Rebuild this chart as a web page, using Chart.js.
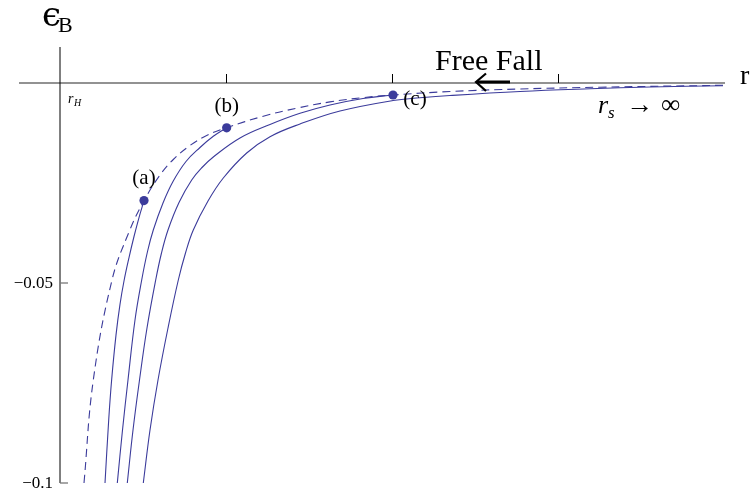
<!DOCTYPE html>
<html>
<head>
<meta charset="utf-8">
<script src="https://cdn.jsdelivr.net/npm/chart.js@4"></script>
<style>
  html, body { margin: 0; padding: 0; background: #fff; }
  #wrap { width: 752px; height: 494px; }
</style>
</head>
<body>
<div id="wrap"><canvas id="energyChart" width="752" height="494"></canvas></div>
<script>
// radial coordinate (r_H = 1) and binding energy
const freeFallR = [1.1446, 1.2006, 1.3133, 1.4157, 1.506, 1.6024, 1.6825, 1.7831, 1.8837, 2.0042, 2.2247, 2.4259, 2.6265, 2.8271, 3.006, 3.3494, 3.7711, 4.253, 4.994];
const freeFallE = [-0.1, -0.07425, -0.04925, -0.03725, -0.029425, -0.023, -0.019125, -0.015625, -0.013125, -0.011175, -0.0083, -0.0063, -0.004725, -0.00365, -0.003, -0.002125, -0.0015, -0.00105, -0.000575];

const curveAR = [1.2711, 1.2934, 1.3114, 1.3373, 1.3614, 1.3855, 1.4157, 1.4458, 1.4759, 1.506];
const curveAE = [-0.1, -0.08425, -0.074075, -0.063025, -0.05535, -0.0495, -0.04365, -0.038375, -0.03365, -0.029425];

const curveBR = [1.3452, 1.3765, 1.4096, 1.4518, 1.4922, 1.5271, 1.562, 1.6205, 1.6807, 1.759, 1.8434, 1.9235, 2.0042];
const curveBE = [-0.1, -0.08675, -0.07425, -0.05925, -0.04925, -0.042125, -0.03675, -0.03, -0.024625, -0.019625, -0.016125, -0.013325, -0.011175];

const curveCR = [1.4054, 1.4398, 1.4789, 1.5241, 1.5765, 1.6114, 1.6506, 1.7169, 1.7934, 1.8554, 1.9235, 2.0843, 2.2651, 2.4458, 2.6265, 2.8253, 3.006];
const curveCE = [-0.1, -0.08675, -0.07425, -0.06125, -0.04925, -0.0425, -0.03675, -0.029875, -0.02425, -0.021125, -0.0185, -0.01375, -0.010375, -0.007575, -0.0055, -0.003875, -0.003];

const curveDR = [1.5018, 1.5422, 1.5904, 1.6506, 1.7127, 1.756, 1.803, 1.8916, 1.9837, 2.1247, 2.2651, 2.4458, 2.6867, 3.006, 3.1687, 3.3494, 3.7711, 4.1928, 4.5542, 4.994];
const curveDE = [-0.1, -0.08675, -0.07425, -0.06125, -0.04925, -0.0425, -0.03675, -0.0295, -0.02375, -0.0175, -0.013425, -0.01025, -0.007, -0.004375, -0.0037, -0.003125, -0.002125, -0.00145, -0.001, -0.000675];

const startLabels = ['(a)', '(b)', '(c)'];
const startR = [1.506, 2.004, 3.006];
const startE = [-0.0294, -0.0112, -0.003];

const xTicks = [2, 3, 4];
const yTicks = [-0.05, -0.1];
const yTickLabels = ['\u22120.05', '\u22120.1'];
const rH = 1;

const blue = '#3b3b9b';
const serif = '"Liberation Serif", "DejaVu Serif", serif';

function toPoints(xs, ys) {
    return xs.map((x, i) => ({ x: x, y: ys[i] }));
}

function lineSet(xs, ys, dashed) {
    return {
        data: toPoints(xs, ys),
        showLine: true,
        borderColor: blue,
        borderWidth: 1.1,
        borderDash: dashed ? [8, 5] : [],
        pointRadius: 0,
        tension: 0.4,
        order: 1
    };
}

const axesPlugin = {
    id: 'axesPlugin',
    beforeDatasetsDraw(chart) {
        const ctx = chart.ctx;
        const xs = chart.scales.x;
        const ys = chart.scales.y;
        const x0 = xs.getPixelForValue(rH);
        const y0 = ys.getPixelForValue(0);
        const area = chart.chartArea;
        ctx.save();
        // r axis
        ctx.strokeStyle = '#6e6e6e';
        ctx.lineWidth = 1.3;
        ctx.beginPath();
        ctx.moveTo(area.left, y0);
        ctx.lineTo(area.right, y0);
        ctx.stroke();
        // energy axis
        ctx.strokeStyle = '#000';
        ctx.lineWidth = 1;
        ctx.beginPath();
        ctx.moveTo(x0, area.top);
        ctx.lineTo(x0, area.bottom);
        ctx.stroke();
        // ticks
        xTicks.forEach(v => {
            const px = Math.round(xs.getPixelForValue(v)) + 0.5;
            ctx.beginPath();
            ctx.moveTo(px, y0);
            ctx.lineTo(px, y0 - 9);
            ctx.stroke();
        });
        ctx.strokeStyle = '#777';
        ctx.lineWidth = 1.3;
        yTicks.forEach(v => {
            const py = ys.getPixelForValue(v);
            ctx.beginPath();
            ctx.moveTo(x0, py);
            ctx.lineTo(x0 + 8, py);
            ctx.stroke();
        });
        ctx.restore();
    },
    afterDatasetsDraw(chart) {
        const ctx = chart.ctx;
        const xs = chart.scales.x;
        const ys = chart.scales.y;
        const x0 = xs.getPixelForValue(rH);
        const y0 = ys.getPixelForValue(0);
        ctx.save();
        ctx.fillStyle = '#000';
        ctx.textBaseline = 'alphabetic';

        // tick labels
        ctx.font = '17px ' + serif;
        ctx.textAlign = 'right';
        yTicks.forEach((v, i) => {
            ctx.fillText(yTickLabels[i], x0 - 7, ys.getPixelForValue(v) + 5);
        });

        // axis titles
        ctx.textAlign = 'left';
        ctx.font = '34px "DejaVu Serif", serif';
        ctx.fillText('\u03F5', x0 - 18, 26);
        ctx.font = '22px ' + serif;
        ctx.fillText('B', x0 - 2, 32);
        ctx.font = '28px ' + serif;
        ctx.fillText('r', xs.getPixelForValue(xs.max) + 15, y0 + 1);

        // r_H under the origin
        ctx.font = 'italic 14px ' + serif;
        ctx.fillText('r', x0 + 8, y0 + 20);
        ctx.font = 'italic 10px ' + serif;
        ctx.fillText('H', x0 + 14, y0 + 23);

        // start point labels
        ctx.font = '21px ' + serif;
        ctx.textAlign = 'center';
        const offsets = [[0, -17], [0, -16], [22, 10]];
        startLabels.forEach((t, i) => {
            const px = xs.getPixelForValue(startR[i]) + offsets[i][0];
            const py = ys.getPixelForValue(startE[i]) + offsets[i][1];
            ctx.fillText(t, px, py);
        });

        // Free Fall + arrow
        ctx.textAlign = 'left';
        ctx.font = '30px ' + serif;
        ctx.fillText('Free Fall', 435, 70);
        ctx.strokeStyle = '#000';
        ctx.lineWidth = 2.8;
        ctx.beginPath();
        ctx.moveTo(510, 82);
        ctx.lineTo(477, 82);
        ctx.stroke();
        ctx.lineWidth = 2.2;
        ctx.beginPath();
        ctx.moveTo(486, 73.5);
        ctx.lineTo(476, 82);
        ctx.lineTo(486, 91);
        ctx.stroke();

        // r_s -> infinity
        ctx.font = 'italic 26px ' + serif;
        ctx.fillText('r', 598, 113);
        ctx.font = 'italic 17px ' + serif;
        ctx.fillText('s', 608, 118);
        ctx.font = '27px ' + serif;
        ctx.fillText('\u2192', 626, 113);
        ctx.fillText('\u221E', 661, 113);
        ctx.restore();
    }
};

const ctx = document.getElementById('energyChart').getContext('2d');

const config = {
    type: 'scatter',
    data: {
        datasets: [
            lineSet(freeFallR, freeFallE, true),
            lineSet(curveAR, curveAE, false),
            lineSet(curveBR, curveBE, false),
            lineSet(curveCR, curveCE, false),
            lineSet(curveDR, curveDE, false),
            {
                data: toPoints(startR, startE),
                showLine: false,
                pointRadius: 4.6,
                pointBackgroundColor: blue,
                pointBorderColor: blue,
                pointBorderWidth: 0,
                order: 0
            }
        ]
    },
    options: {
        responsive: false,
        animation: false,
        devicePixelRatio: 1,
        layout: { padding: { left: 19, right: 27, top: 47, bottom: 11 } },
        plugins: { legend: { display: false }, tooltip: { enabled: false } },
        scales: {
            x: { type: 'linear', min: 0.753, max: 5.006, display: false },
            y: { type: 'linear', min: -0.1, max: 0.009, display: false }
        }
    },
    plugins: [axesPlugin]
};

new Chart(ctx, config);
</script>
</body>
</html>
